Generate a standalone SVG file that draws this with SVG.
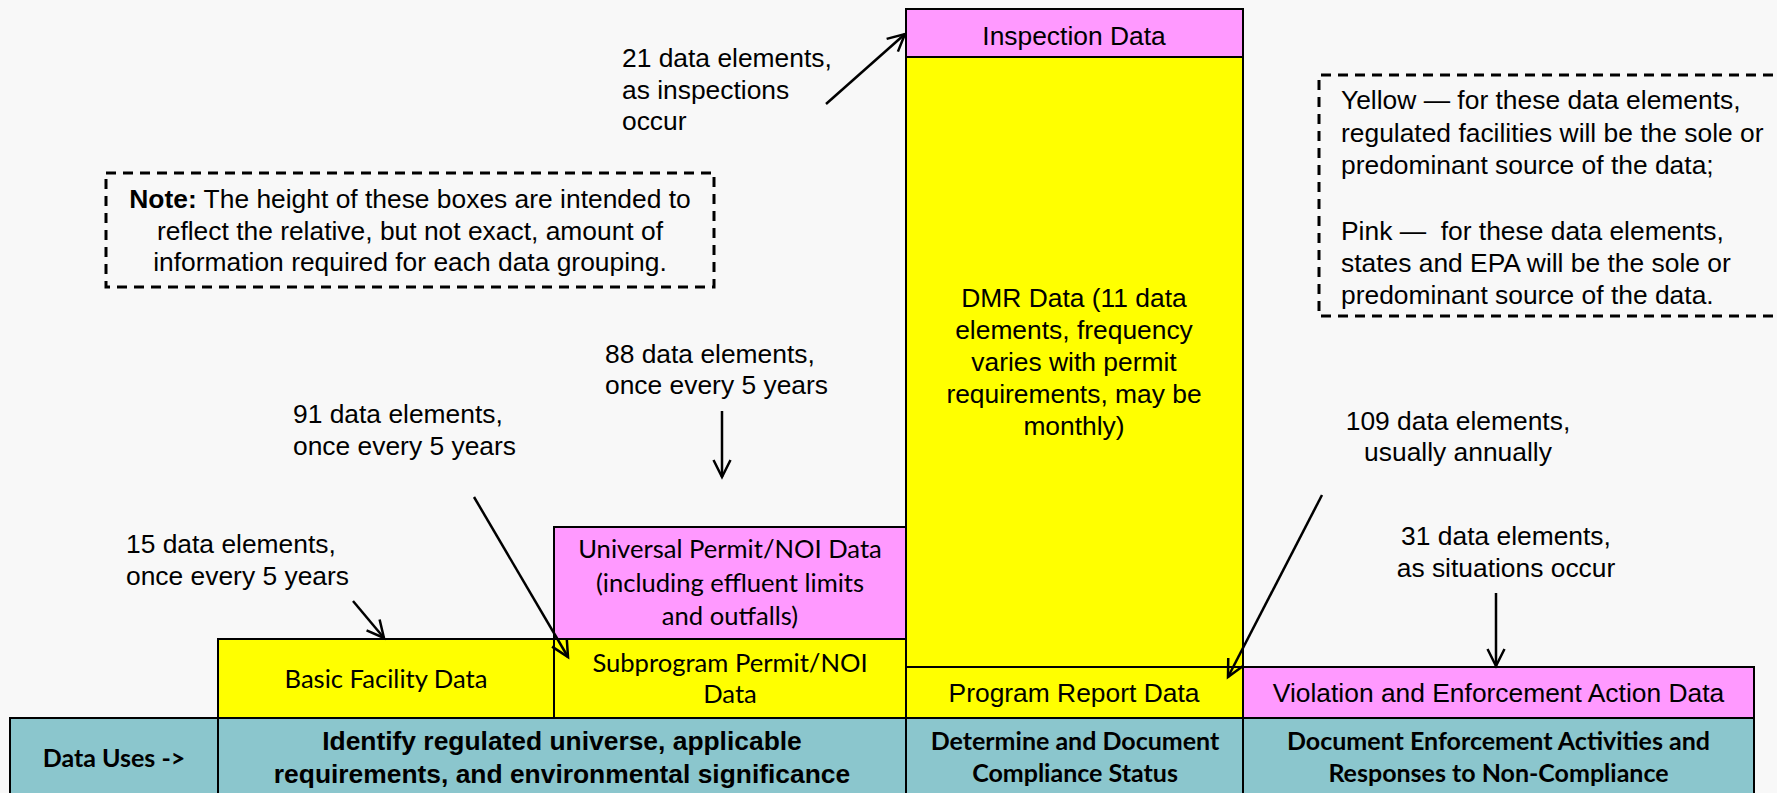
<svg xmlns="http://www.w3.org/2000/svg" width="1777" height="793" viewBox="0 0 1777 793">
<defs>
<style>
.bg{fill:#f8f8f8}
.y{fill:#ffff00;stroke:#000;stroke-width:2}
.p{fill:#ff99ff;stroke:#000;stroke-width:2}
.t{fill:#8bc6cd;stroke:#000;stroke-width:2}
.dash{fill:none;stroke:#000;stroke-width:3;stroke-dasharray:10 7}
.a{font-family:"Liberation Sans",Arial,sans-serif;font-size:26.4px;fill:#000}
.c{font-family:Lato,"Liberation Sans",sans-serif;font-size:25.6px;fill:#000}
.ab{font-family:"Liberation Sans",Arial,sans-serif;font-size:26.4px;font-weight:bold;fill:#000}
.cb{font-family:Lato,"Liberation Sans",sans-serif;font-size:25px;font-weight:bold;fill:#000}
.m{text-anchor:middle}
.arr{fill:none;stroke:#000;stroke-width:2.5;marker-end:url(#ah)}
</style>
<marker id="ah" markerUnits="userSpaceOnUse" markerWidth="22" markerHeight="22" viewBox="0 0 22 22" refX="19" refY="11" orient="auto">
<path d="M2,2.5 L19,11 L2,19.5" fill="none" stroke="#000" stroke-width="2.5"/>
</marker>
</defs>
<rect class="bg" x="0" y="0" width="1777" height="793"/>

<g id="data-uses-label">
<rect class="t" x="10" y="718" width="208" height="85"/>
<text class="cb m" x="114" y="767">Data Uses -&gt;</text>
</g>
<g id="use-identify">
<rect class="t" x="218" y="718" width="688" height="85"/>
<text class="ab m" x="562" y="750">Identify regulated universe, applicable</text>
<text class="ab m" x="562" y="783">requirements, and environmental significance</text>
</g>
<g id="use-compliance">
<rect class="t" x="906" y="718" width="337" height="85"/>
<text class="cb m" x="1075" y="750">Determine and Document</text>
<text class="cb m" x="1075" y="782">Compliance Status</text>
</g>
<g id="use-enforcement">
<rect class="t" x="1243" y="718" width="511" height="85"/>
<text class="cb m" x="1498.5" y="750">Document Enforcement Activities and</text>
<text class="cb m" x="1498.5" y="782">Responses to Non-Compliance</text>
</g>

<g id="basic-facility">
<rect class="y" x="218" y="639" width="336" height="79"/>
<text class="c m" x="386" y="688">Basic Facility Data</text>
</g>
<g id="subprogram-permit">
<rect class="y" x="554" y="639" width="352" height="79"/>
<text class="c m" x="730" y="672">Subprogram Permit/NOI</text>
<text class="c m" x="730" y="703">Data</text>
</g>
<g id="universal-permit">
<rect class="p" x="554" y="527" width="352" height="112"/>
<text class="c m" x="730" y="558">Universal Permit/NOI Data</text>
<text class="c m" x="730" y="592">(including effluent limits</text>
<text class="c m" x="730" y="625">and outfalls)</text>
</g>
<g id="inspection">
<rect class="p" x="906" y="9" width="337" height="48"/>
<text class="a m" x="1074" y="45">Inspection Data</text>
</g>
<g id="dmr">
<rect class="y" x="906" y="57" width="337" height="610"/>
<text class="a m" x="1074" y="307">DMR Data (11 data</text>
<text class="a m" x="1074" y="339">elements, frequency</text>
<text class="a m" x="1074" y="371">varies with permit</text>
<text class="a m" x="1074" y="403">requirements, may be</text>
<text class="a m" x="1074" y="435">monthly)</text>
</g>
<g id="program-report">
<rect class="y" x="906" y="667" width="337" height="51"/>
<text class="a m" x="1074" y="702">Program Report Data</text>
</g>
<g id="violation">
<rect class="p" x="1243" y="667" width="511" height="51"/>
<text class="a m" x="1498.5" y="702">Violation and Enforcement Action Data</text>
</g>

<g id="note">
<rect class="dash" x="106" y="173" width="608" height="114"/>
<text class="a m" x="410" y="208"><tspan font-weight="bold">Note:</tspan> The height of these boxes are intended to</text>
<text class="a m" x="410" y="240">reflect the relative, but not exact, amount of</text>
<text class="a m" x="410" y="271">information required for each data grouping.</text>
</g>
<g id="legend">
<path class="dash" d="M1790,75 H1319 V316 H1790"/>
<text class="a" x="1341" y="109">Yellow — for these data elements,</text>
<text class="a" x="1341" y="142">regulated facilities will be the sole or</text>
<text class="a" x="1341" y="174">predominant source of the data;</text>
<text class="a" x="1341" y="240">Pink —&#160; for these data elements,</text>
<text class="a" x="1341" y="272">states and EPA will be the sole or</text>
<text class="a" x="1341" y="304">predominant source of the data.</text>
</g>

<g id="annotations">
<text class="a" x="622" y="67">21 data elements,</text>
<text class="a" x="622" y="99">as inspections</text>
<text class="a" x="622" y="130">occur</text>
<text class="a" x="605" y="363">88 data elements,</text>
<text class="a" x="605" y="394">once every 5 years</text>
<text class="a" x="293" y="423">91 data elements,</text>
<text class="a" x="293" y="455">once every 5 years</text>
<text class="a" x="126" y="553">15 data elements,</text>
<text class="a" x="126" y="585">once every 5 years</text>
<text class="a m" x="1458" y="430">109 data elements,</text>
<text class="a m" x="1458" y="461">usually annually</text>
<text class="a m" x="1506" y="545">31 data elements,</text>
<text class="a m" x="1506" y="577">as situations occur</text>
</g>

<g id="connectors">
<line class="arr" x1="826" y1="104" x2="905" y2="34"/>
<line class="arr" x1="722" y1="411" x2="722" y2="477"/>
<line class="arr" x1="474" y1="497" x2="568" y2="657"/>
<line class="arr" x1="353" y1="601" x2="384" y2="638"/>
<line class="arr" x1="1322" y1="495" x2="1228" y2="677"/>
<line class="arr" x1="1496" y1="593" x2="1496" y2="666"/>
</g>
</svg>
